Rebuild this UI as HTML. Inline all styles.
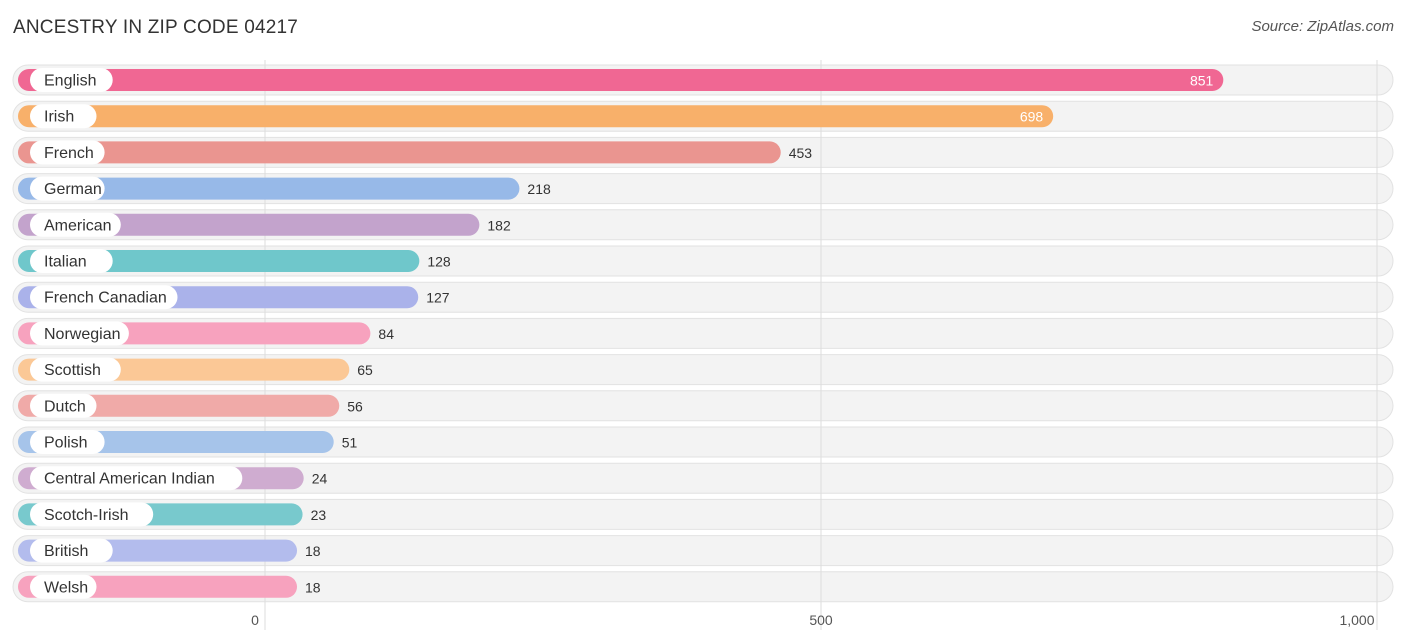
<!DOCTYPE html>
<html><head><meta charset="utf-8">
<style>
body{margin:0;background:#fff;font-family:"Liberation Sans",sans-serif;}
#wrap{position:relative;width:1406px;height:644px;overflow:hidden;}
.title{position:absolute;left:13px;top:17px;font-size:19px;color:#333;letter-spacing:0.2px}
.src{position:absolute;right:12px;top:18px;font-size:15px;color:#555;font-style:italic}
</style></head><body>
<div id="wrap">
<div class="title">ANCESTRY IN ZIP CODE 04217</div>
<div class="src">Source: ZipAtlas.com</div>
<svg id="svg" width="1406" height="644" style="position:absolute;left:0;top:0"></svg>
</div>
<script>
const categories=["English","Irish","French","German","American","Italian","French Canadian","Norwegian","Scottish","Dutch","Polish","Central American Indian","Scotch-Irish","British","Welsh"];
const values=[851,698,453,218,182,128,127,84,65,56,51,24,23,18,18];
const colors=["#f06793","#f8b06a","#ea9590","#97b9e8","#c3a3cc","#6fc7cb","#aab2ea","#f7a2be","#fbc896","#f0aaa8","#a6c4ea","#cfacd0","#78c9cd","#b3bced","#f7a2be"];
const ticks=[0,500,1000];
const tickLabels=["0","500","1,000"];
const NS="http://www.w3.org/2000/svg";
const svg=document.getElementById('svg');
const x=v=>265+v*(1377-265)/1000;
const y=i=>80+i*36.2;
function mk(t,a){const e=document.createElementNS(NS,t);for(const k in a)e.setAttribute(k,a[k]);svg.appendChild(e);return e;}
categories.forEach((c,i)=>{
  const r=mk('rect',{x:13,y:y(i)-15,width:1380,height:30,rx:15,fill:'#f3f3f3',stroke:'#e2e2e2'});
  
  
});
ticks.forEach((t,i)=>{
  const l=mk('line',{x1:x(t),x2:x(t),y1:60,y2:630,stroke:'#ddd','stroke-width':1});
  
  
  const tx=mk('text',{x:x(t)-(i==2?20:i==1?0:10),y:625,'font-size':14,fill:'#555','text-anchor':'middle'});
  tx.textContent=tickLabels[i];
  
  
});
categories.forEach((c,i)=>{
  const end=x(values[i])+12;
  const b=mk('rect',{x:18,y:y(i)-11,width:end-18,height:22,rx:11,fill:colors[i]});
  
  
  const tw=c.length*8.1+26;
  const p=mk('rect',{x:30,y:y(i)-12,width:tw,height:24,rx:12,fill:'#fff'});
  
  
  const lt=mk('text',{x:44,y:y(i)+5.5,'font-size':16,fill:'#333'});
  lt.textContent=c;
  
  
  const inside=values[i]>600;
  const vt=mk('text',{x:inside?end-10:end+8,y:y(i)+5.5,'font-size':14,fill:inside?'#fff':'#333','text-anchor':inside?'end':'start'});
  vt.textContent=values[i];
  
  
});
</script>
</body></html>
